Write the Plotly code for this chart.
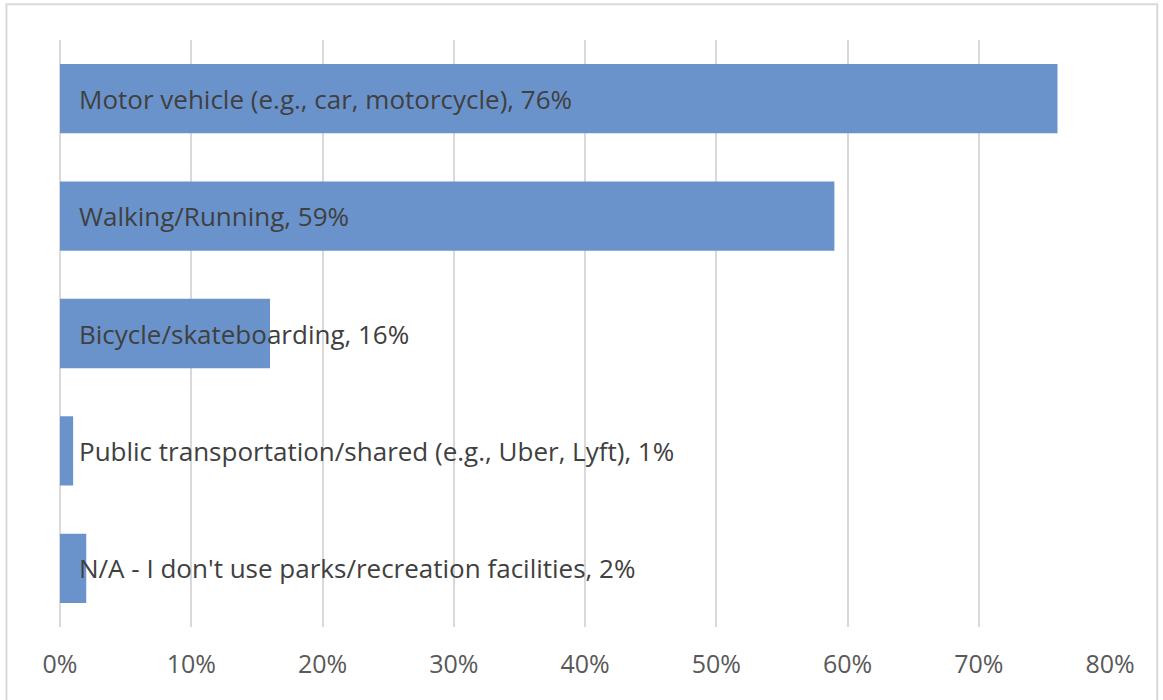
import plotly.graph_objects as go

categories = [
    "Motor vehicle (e.g., car, motorcycle)",
    "Walking/Running",
    "Bicycle/skateboarding",
    "Public transportation/shared (e.g., Uber, Lyft)",
    "N/A - I don't use parks/recreation facilities",
]
values = [0.76, 0.59, 0.16, 0.01, 0.02]
tick_vals = [0, 0.1, 0.2, 0.3, 0.4, 0.5, 0.6, 0.7, 0.8]

fig = go.Figure()
fig.add_trace(go.Bar(
    x=values, y=categories, orientation="h",
    marker=dict(color="#6a93cc", line=dict(width=0)),
    hoverinfo="skip",
))

for cat, v in zip(categories, values):
    fig.add_annotation(
        x=0, y=cat, xref="x", yref="y",
        text=f"{cat}, {round(v*100)}%",
        showarrow=False, xanchor="left", xshift=17,
        font=dict(family="Open Sans", size=26, color="#404040"),
    )

fig.update_layout(
    width=1163, height=700,
    margin=dict(l=60, r=53, t=40, b=73),
    paper_bgcolor="white", plot_bgcolor="white",
    showlegend=False, bargap=0.41,
    xaxis=dict(
        range=[0, 0.8], tickvals=tick_vals, tickformat=".0%",
        showgrid=True, gridcolor="#d9d9d9", gridwidth=2,
        zeroline=True, zerolinecolor="#d9d9d9", zerolinewidth=2,
        showline=False,
        ticks="", ticklabelstandoff=20,
        tickfont=dict(family="Open Sans", size=25, color="#595959"),
    ),
    yaxis=dict(
        categoryorder="array", categoryarray=categories[::-1],
        showticklabels=False, showgrid=False, zeroline=False,
    ),
    shapes=[dict(
        type="rect", xref="paper", yref="paper",
        x0=-0.051, x1=1.045, y0=-0.2, y1=1.061,
        line=dict(color="#d9d9d9", width=2), fillcolor="rgba(0,0,0,0)",
        layer="below",
    )],
)

fig.write_html("out.html", config={"displayModeBar": False},
               post_script="document.body.style.margin='0';")
